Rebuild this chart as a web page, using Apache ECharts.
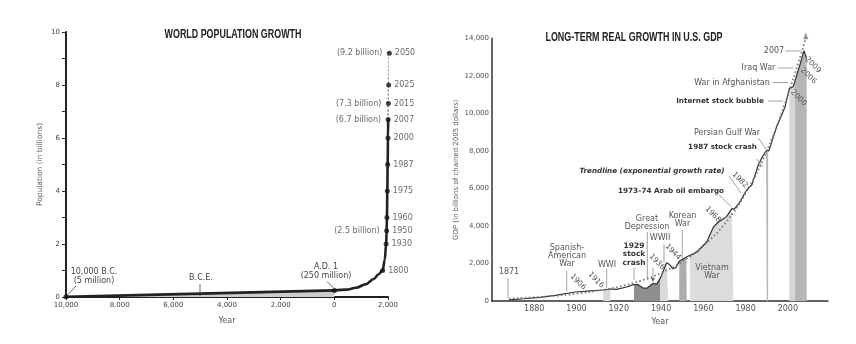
<!DOCTYPE html>
<html><head><meta charset="utf-8">
<script src="https://cdn.jsdelivr.net/npm/echarts@6/dist/echarts.min.js"></script>
<style>html,body{margin:0;padding:0;background:#fff}#c{width:856px;height:344px}</style>
</head><body><div id="c"></div>
<script>
// ---------- World population (billions) ----------
const popYearsBC = [-10000, 1];
const popValsBC  = [0.005, 0.25];
const popYearsAD = [1, 450, 810, 1170, 1470, 1650, 1800, 1880, 1930, 1950, 1960, 1975, 1987, 2000, 2007];
const popValsAD  = [0.25, 0.28, 0.35, 0.48, 0.68, 0.86, 1.0, 1.4, 2.0, 2.5, 3.0, 4.0, 5.0, 6.0, 6.7];
const projYears  = [2007, 2015, 2025, 2050];
const projVals   = [6.7, 7.3, 8.0, 9.2];
const dotYears   = [-10000, 1, 1800, 1930, 1950, 1960, 1975, 1987, 2000, 2007, 2015, 2025, 2050];
const dotVals    = [0.005, 0.25, 1.0, 2.0, 2.5, 3.0, 4.0, 5.0, 6.0, 6.7, 7.3, 8.0, 9.2];
const dotYearLabels    = ['', '', '1800', '1930', '1950', '1960', '1975', '1987', '2000', '2007', '2015', '2025', '2050'];
const dotBillionLabels = ['', '', '', '', '(2.5 billion)', '', '', '', '', '(6.7 billion)', '(7.3 billion)', '', '(9.2 billion)'];
const popYTicks = [0, 2, 4, 6, 8, 10];

// ---------- US real GDP (billions of chained 2005 dollars) ----------
const gdpYears = [1868, 1875, 1882.7, 1890, 1899.4, 1905, 1912.7, 1916, 1919, 1923.7, 1927, 1929, 1931.5, 1933.5, 1936.3, 1938, 1940, 1942.6, 1944, 1945.5, 1947, 1948.6, 1952, 1955, 1957, 1961.6, 1964.8, 1967, 1969.6, 1971, 1973.5, 1974.6, 1977.4, 1980.5, 1981.3, 1983, 1986, 1988, 1990, 1991, 1994.7, 1998.7, 2000.7, 2002.6, 2004.2, 2005.7, 2007.6, 2008.9];
const gdpVals  = [60, 120, 196, 300, 480, 530, 587, 640, 624, 747, 871, 880, 690, 690, 944, 900, 1300, 2044, 1950, 1724, 1780, 2115, 2347, 2500, 2613, 3147, 3947, 4200, 4391, 4500, 4924, 4890, 5298, 5920, 5831, 6200, 7253, 7700, 8053, 8000, 9297, 10364, 11342, 11431, 12053, 12587, 13349, 12950];
const trendYears = [1868, 1880, 1890, 1900, 1910, 1920, 1930, 1940, 1950, 1960, 1970, 1980, 1990, 2000, 2008.2];
const trendVals  = [130, 200, 280, 390, 550, 760, 1070, 1500, 2100, 2950, 4100, 5750, 8000, 11000, 13900];
const trendArrow = [2008.5, 14150];
const bandNames  = ['WWI', 'Great Depression', 'WWII', 'Korean War', 'Vietnam War', 'Persian Gulf War', 'War in Afghanistan', 'Iraq War'];
const bandStarts = [1912.5, 1927.2, 1939.5, 1948.6, 1953.7, 1989.7, 2000.7, 2003.4];
const bandEnds   = [1916, 1939.5, 1943.5, 1952.1, 1974.2, 1990.7, 2003.4, 2008.9];
const bandColors = ['#d9d9d9', '#8e8e8e', '#dadada', '#adadad', '#dcdcdc', '#b8b8b8', '#d6d6d6', '#b5b5b5'];

function zip(a, b) { return a.map((v, i) => [v, b[i]]); }
function interp(xs, ys, x) {
  for (let i = 0; i < xs.length - 1; i++) {
    if (x >= xs[i] && x <= xs[i + 1]) {
      const t = (x - xs[i]) / (xs[i + 1] - xs[i]);
      return ys[i] + t * (ys[i + 1] - ys[i]);
    }
  }
  return x < xs[0] ? ys[0] : ys[ys.length - 1];
}
function bandData(s, e) {
  const out = [[s, interp(gdpYears, gdpVals, s)]];
  gdpYears.forEach((y, i) => { if (y > s && y < e) out.push([y, gdpVals[i]]); });
  out.push([e, interp(gdpYears, gdpVals, e)]);
  return out;
}

const FF = 'DejaVu Sans';
const TF = "'Liberation Sans', sans-serif";
function T(x, y, text, o) {
  o = o || {};
  return { type: 'text', x: x, y: y, rotation: o.rot || 0, scaleX: o.sx || 1, z: 100,
    style: { text: text, fill: o.fill || '#555', fontSize: o.fs || 8, fontFamily: o.ff || FF,
      fontWeight: o.fw || 'normal', fontStyle: o.fst || 'normal', align: o.align || 'center',
      verticalAlign: 'middle', lineHeight: o.lh || 9 } };
}
function L(x1, y1, x2, y2, o) {
  o = o || {};
  return { type: 'line', z: 100, shape: { x1: x1, y1: y1, x2: x2, y2: y2 },
    style: { stroke: o.c || '#8a8a8a', lineWidth: o.w || 0.8 } };
}
const R45 = -0.8;
const B = { fw: 'bold', fs: 7.2, fill: '#333' };
const graphics = [
  // titles
  T(233, 35, 'WORLD POPULATION GROWTH', { ff: TF, fw: 'bold', fs: 12, fill: '#222', sx: 0.742 }),
  T(634, 38, 'LONG-TERM REAL GROWTH IN U.S. GDP', { ff: TF, fw: 'bold', fs: 12, fill: '#222', sx: 0.744 }),
  // population annotations
  T(94, 276.5, '10,000 B.C.\n(5 million)', { fill: '#444', lh: 9 }),
  L(76, 286, 67.5, 295, { c: '#444' }),
  T(201, 278, 'B.C.E.', { fill: '#444' }),
  L(200, 284, 200, 296, { c: '#444' }),
  T(326, 271.5, 'A.D. 1\n(250 million)', { fill: '#444', lh: 8.5 }),
  L(327, 281.5, 334, 288.5, { c: '#444' }),
  // GDP annotations
  T(509, 272, '1871'), L(508, 278, 508, 298),
  T(567, 256, 'Spanish-\nAmerican\nWar', { lh: 8.3 }), L(566.7, 271, 566.7, 291),
  T(578, 282, '1906', { rot: R45, fs: 7.5 }),
  T(596, 280, '1916', { rot: R45, fs: 7.5 }),
  T(607, 264.5, 'WWI'), L(606.7, 269, 606.7, 288),
  T(634, 254.5, '1929\nstock\ncrash', { fw: 'bold', fs: 7.5, fill: '#333', lh: 8.5 }), L(634, 268, 634, 280),
  T(647, 223, 'Great\nDepression', { lh: 8.6 }), L(647.3, 232, 647.3, 280),
  T(657, 262, '1936', { rot: R45, fs: 7.5 }),
  L(653, 268, 653, 280),
  { type: 'polygon', z: 100, shape: { points: [[651, 278], [655, 278], [653, 282]] }, style: { fill: '#666' } },
  T(660, 238, 'WWII'), L(664, 244, 664, 263),
  T(673, 252, '1944', { rot: R45, fs: 7.5 }),
  T(682.5, 220, 'Korean\nWar', { lh: 8.3 }), L(682.3, 230, 682.3, 259),
  T(712, 272, 'Vietnam\nWar', { lh: 8 }),
  T(713, 214.5, '1968', { rot: R45, fs: 7.5 }),
  T(671, 191, '1973\u201374 Arab oil embargo', B), L(719, 195, 731.5, 207),
  T(652, 171, 'Trendline (exponential growth rate)', { fw: 'bold', fst: 'italic', fs: 7.2, fill: '#333' }), L(729, 176, 741, 193),
  T(740, 180, '1982', { rot: R45, fs: 7.5 }),
  T(722.5, 147.5, '1987 stock crash', B), L(756.5, 159, 763, 167),
  T(727, 132.5, 'Persian Gulf War'), L(758, 138, 767, 150),
  T(720, 101, 'Internet stock bubble', B), L(768, 101, 783, 101),
  T(732, 82.5, 'War in Afghanistan'), L(773, 82.5, 788, 82.5),
  T(758.5, 68, 'Iraq War'), L(778, 68, 793, 68),
  T(774, 51, '2007'), L(785.5, 51, 801.5, 51),
  T(813, 65, '2009', { rot: R45, fs: 7.5 }),
  T(808.5, 76, '2006', { rot: R45, fs: 7.5 }),
  T(798.5, 98, '2000', { rot: R45, fs: 7.5 })
];

const series = [];
// population
series.push({ type: 'line', xAxisIndex: 0, yAxisIndex: 0, data: zip(popYearsBC, popValsBC), symbol: 'none',
  lineStyle: { color: '#222', width: 2.6 }, areaStyle: { color: '#cdcdcd', opacity: 1 }, z: 3 });
series.push({ type: 'line', xAxisIndex: 0, yAxisIndex: 0, data: zip(popYearsAD, popValsAD), symbol: 'none', clip: false,
  smooth: 0.35, smoothMonotone: 'x', lineStyle: { color: '#222', width: 2.6 }, z: 3 });
series.push({ type: 'line', xAxisIndex: 0, yAxisIndex: 0, data: zip(projYears, projVals), symbol: 'none', clip: false,
  lineStyle: { color: '#888', width: 2, type: 'dotted' }, z: 2 });
series.push({ type: 'scatter', xAxisIndex: 0, yAxisIndex: 0, symbolSize: 5, itemStyle: { color: '#111' }, z: 4, clip: false,
  data: dotYears.map((y, i) => ({ value: [y, dotVals[i]], label: { show: !!dotYearLabels[i], formatter: dotYearLabels[i] } })),
  label: { position: 'right', distance: 3, color: '#444', fontSize: 8, fontFamily: FF } });
series.push({ type: 'scatter', xAxisIndex: 0, yAxisIndex: 0, symbolSize: 0, silent: true, z: 4, clip: false,
  data: dotYears.map((y, i) => ({ value: [y, dotVals[i]], label: { show: !!dotBillionLabels[i], formatter: dotBillionLabels[i] } })),
  label: { position: 'left', distance: 7, color: '#444', fontSize: 8, fontFamily: FF } });
// GDP bands (area under the GDP curve)
bandStarts.forEach((s, i) => {
  series.push({ type: 'line', name: bandNames[i], xAxisIndex: 1, yAxisIndex: 1, data: bandData(s, bandEnds[i]), symbol: 'none',
    lineStyle: { width: 0 }, areaStyle: { color: bandColors[i], opacity: 1 }, z: 1, silent: true });
});
series.push({ type: 'line', xAxisIndex: 1, yAxisIndex: 1, data: zip(gdpYears, gdpVals), symbol: 'none',
  lineStyle: { color: '#333', width: 1.2 }, z: 3 });
series.push({ type: 'line', xAxisIndex: 1, yAxisIndex: 1, data: zip(trendYears, trendVals), symbol: 'none', smooth: true, clip: false,
  lineStyle: { color: '#777', width: 1.8, type: [1.5, 2.5] }, z: 4 });
series.push({ type: 'scatter', xAxisIndex: 1, yAxisIndex: 1, data: [trendArrow], symbol: 'triangle', symbolSize: [5, 7], clip: false,
  itemStyle: { color: '#777' }, z: 4 });

const option = {
  animation: false,
  backgroundColor: '#fff',
  grid: [
    { left: 66, top: 32, width: 322, height: 265 },
    { left: 492, top: 38.5, width: 336, height: 262.5 }
  ],
  xAxis: [
    { type: 'value', gridIndex: 0, min: -10000, max: 2000, interval: 2000,
      name: 'Year', nameLocation: 'middle', nameGap: 20, nameTextStyle: { color: '#555', fontSize: 8, fontFamily: FF },
      axisLine: { onZero: false, lineStyle: { color: '#222', width: 2 } }, axisTick: { show: true, length: 3, lineStyle: { color: '#222' } },
      splitLine: { show: false },
      axisLabel: { color: '#444', fontSize: 7, fontFamily: FF, margin: 5, formatter: v => Math.abs(v).toLocaleString('en-US') } },
    { type: 'value', gridIndex: 1, min: 1860, max: 2019, interval: 20,
      name: 'Year', nameLocation: 'middle', nameGap: 14, nameTextStyle: { color: '#555', fontSize: 8, fontFamily: FF },
      axisLine: { onZero: false, lineStyle: { color: '#333', width: 1.5 } }, axisTick: { show: false }, splitLine: { show: false },
      axisLabel: { color: '#555', fontSize: 8, fontFamily: FF, margin: 4, showMaxLabel: false, formatter: v => v === 1860 ? '' : String(v) } }
  ],
  yAxis: [
    { type: 'value', gridIndex: 0, min: 0, max: 10, interval: 1,
      name: 'Population (in billions)', nameLocation: 'middle', nameGap: 22, nameTextStyle: { color: '#555', fontSize: 7.5, fontFamily: FF },
      axisLine: { show: true, onZero: false, lineStyle: { color: '#222', width: 2 } }, axisTick: { show: true, length: 4, lineStyle: { color: '#222' } },
      splitLine: { show: false },
      axisLabel: { color: '#444', fontSize: 7, fontFamily: FF, margin: 6, formatter: v => popYTicks.indexOf(v) >= 0 ? String(v) : '' } },
    { type: 'value', gridIndex: 1, min: 0, max: 14000, interval: 2000,
      name: 'GDP (in billions of chained 2005 dollars)', nameLocation: 'middle', nameGap: 32, nameTextStyle: { color: '#555', fontSize: 7, fontFamily: FF },
      axisLine: { show: true, onZero: false, lineStyle: { color: '#666', width: 2 } }, axisTick: { show: false }, splitLine: { show: false },
      axisLabel: { color: '#555', fontSize: 7, fontFamily: FF, margin: 3, formatter: v => v.toLocaleString('en-US') } }
  ],
  graphic: graphics,
  series: series
};
const chart = echarts.init(document.getElementById('c'), null, { renderer: 'canvas' });
chart.setOption(option);
</script></body></html>
